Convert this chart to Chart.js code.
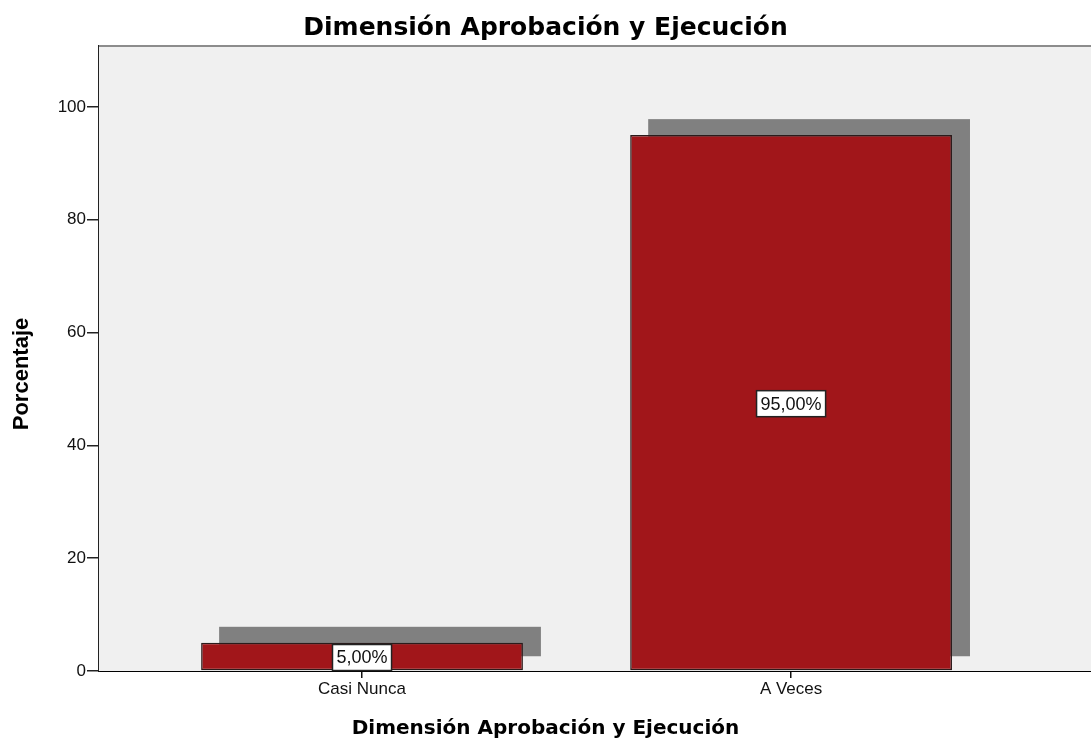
<!DOCTYPE html>
<html>
<head>
<meta charset="utf-8">
<script src="https://cdn.jsdelivr.net/npm/chart.js@4"></script>
<style>
  html, body { margin: 0; padding: 0; background: #fff; }
  #wrap { width: 1091px; height: 741px; }
</style>
</head>
<body>
<div id="wrap"><canvas id="chart"></canvas></div>
<script>
// data
var categories = ['Casi Nunca', 'A Veces'];
var percentages = [5, 95];
var yTicks = [0, 20, 40, 60, 80, 100];
var chartTitle = 'Dimensión Aprobación y Ejecución';
var yTitle = 'Porcentaje';

var barRed = '#a1161a';
var shadowGrey = '#808080';
var plotBg = '#f0f0f0';

// plot background + shadow bars behind the real ones
var backdrop = {
  id: 'backdrop',
  beforeDatasetsDraw: function(chart) {
    var ctx = chart.ctx, a = chart.chartArea;
    ctx.save();
    ctx.fillStyle = plotBg;
    ctx.fillRect(a.left, a.top, a.right - a.left, a.bottom - a.top);
    ctx.strokeStyle = '#8c8c8c';
    ctx.lineWidth = 2;
    ctx.beginPath();
    ctx.moveTo(a.left, a.top);
    ctx.lineTo(a.right, a.top);
    ctx.stroke();
    // drop shadow, offset right and up
    ctx.fillStyle = shadowGrey;
    chart.getDatasetMeta(0).data.forEach(function(bar) {
      var p = bar.getProps(['x', 'y', 'base', 'width'], true);
      ctx.fillRect(p.x - p.width / 2 + 18, p.y - 16, p.width, p.base - p.y + 2);
    });
    ctx.restore();
  },
  afterDatasetsDraw: function(chart) {
    var ctx = chart.ctx;
    ctx.save();
    ctx.font = '18px "Liberation Sans", Arial, sans-serif';
    ctx.textAlign = 'center';
    ctx.textBaseline = 'middle';
    chart.getDatasetMeta(0).data.forEach(function(bar, i) {
      var p = bar.getProps(['x', 'y', 'base'], true);
      var txt = percentages[i].toFixed(2).replace('.', ',') + '%';
      var w = ctx.measureText(txt).width + 8, h = 26;
      var cy = (p.y + p.base) / 2 + 1;
      ctx.fillStyle = '#fff';
      ctx.fillRect(p.x - w / 2, cy - h / 2, w, h);
      ctx.strokeStyle = '#222';
      ctx.lineWidth = 1.5;
      ctx.strokeRect(p.x - w / 2, cy - h / 2, w, h);
      ctx.fillStyle = '#111';
      ctx.fillText(txt, p.x, cy + 1);
    });
    // y axis title
    ctx.translate(22, 374);
    ctx.rotate(-Math.PI / 2);
    ctx.font = 'bold 22px "Liberation Sans", Arial, sans-serif';
    ctx.fillStyle = '#000';
    ctx.fillText(yTitle, 0, 0);
    ctx.restore();
  }
};

var ctx = document.getElementById('chart').getContext('2d');
var myChart = new Chart(ctx, {
  type: 'bar',
  data: {
    datasets: [{
      data: percentages.map(function(v, i) { return { x: i, y: v }; }),
      backgroundColor: barRed,
      borderColor: '#2b1b1b',
      borderWidth: 1.5,
      borderSkipped: false,
      barPercentage: 1,
      categoryPercentage: 0.75
    }]
  },
  options: {
    responsive: true,
    maintainAspectRatio: false,
    animation: false,
    layout: { padding: 0 },
    plugins: {
      legend: { display: false },
      tooltip: { enabled: false },
      title: {
        display: true,
        text: chartTitle,
        color: '#000',
        font: { family: '"DejaVu Sans", Verdana, sans-serif', size: 25, weight: 'bold' },
        padding: { top: 13, bottom: 3 }
      },
      subtitle: {
        display: true,
        position: 'bottom',
        text: chartTitle,
        color: '#000',
        font: { family: '"DejaVu Sans", Verdana, sans-serif', size: 20, weight: 'bold' },
        padding: { top: 6, bottom: 0 }
      }
    },
    scales: {
      x: {
        type: 'linear',
        min: -0.613,
        max: 1.699,
        offset: false,
        afterBuildTicks: function(scale) {
          scale.ticks = categories.map(function(c, i) { return { value: i }; });
        },
        afterFit: function(scale) { scale.height = 40; },
        ticks: {
          color: '#111',
          padding: 1,
          font: { family: '"Liberation Sans", Arial, sans-serif', size: 17 },
          callback: function(v) { return categories[v]; }
        },
        grid: { display: true, offset: false, drawOnChartArea: false, drawTicks: true, tickLength: 7, color: '#111', lineWidth: 1.5 },
        border: { display: true, color: '#000', width: 2 }
      },
      y: {
        min: 0,
        max: 110.8,
        afterBuildTicks: function(scale) {
          scale.ticks = yTicks.map(function(v) { return { value: v }; });
        },
        afterFit: function(scale) { scale.width = 99; },
        ticks: {
          color: '#111',
          padding: 1,
          font: { family: '"Liberation Sans", Arial, sans-serif', size: 17 }
        },
        grid: { display: true, drawOnChartArea: false, drawTicks: true, tickLength: 12, color: '#222', lineWidth: 1.5 },
        border: { display: true, color: '#222', width: 2 }
      }
    }
  },
  plugins: [backdrop]
});
</script>
</body>
</html>
